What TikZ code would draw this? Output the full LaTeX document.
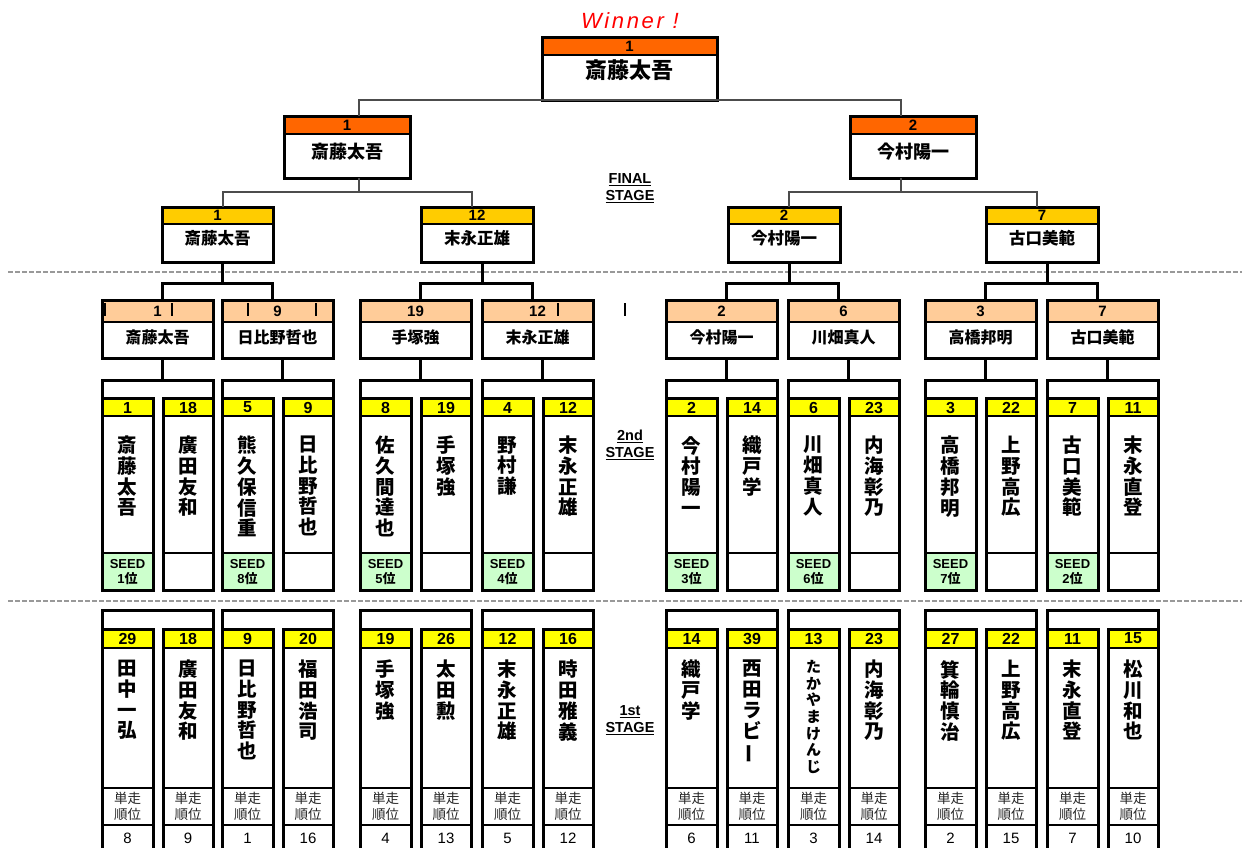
\documentclass[tikz,border=0pt]{standalone}
\usepackage{fontspec}
\usepackage{graphicx}
\setmainfont{Liberation Sans}
\newfontfamily\jp{Noto Sans CJK JP}
\usetikzlibrary{calc}
\definecolor{cOrange}{HTML}{FF6600}
\definecolor{cGold}{HTML}{FFCC00}
\definecolor{cPeach}{HTML}{FFCC99}
\definecolor{cYellow}{HTML}{FFFF00}
\definecolor{cGreen}{HTML}{CCFFCC}
\tikzset{
  boxframe/.style={draw=black, line width=3pt, inner sep=0pt, outer sep=0pt},
  sepline/.style={black, line width=2.5pt},
  groupline/.style={black, line width=3pt},
  connA/.style={draw=black!70, line width=2pt},
  connB/.style={draw=black, line width=3pt},
  hnum/.style={inner sep=0pt, font=\bfseries\fontsize{15}{15}\selectfont},
  colnum/.style={inner sep=0pt, font=\bfseries\fontsize{16}{16}\selectfont},
  vname/.style={inner sep=0pt, align=center, font=\jp\bfseries\fontsize{19.5}{20.7}\selectfont},
  seedtxt/.style={inner sep=0pt, align=center, font=\bfseries\fontsize{13}{14.5}\selectfont},
  ranklbl/.style={inner sep=0pt, align=center, text=black!85, font=\jp\fontsize{13.5}{15.5}\selectfont},
  ranknum/.style={inner sep=0pt, font=\fontsize{15}{15}\selectfont},
  stagelbl/.style={inner sep=0pt, align=center, font=\bfseries\fontsize{14.5}{16.5}\selectfont},
  dashsep/.style={draw=black!40, line width=1.5pt, dash pattern=on 5pt off 2pt},
  tickline/.style={draw=black, line width=1.3pt},
}
% title box: #1 name, #2 x1, #3 y1, #4 x2, #5 y2, #6 header bottom, #7 colour, #8 number, #9 name y
\newcommand{\tbox}[9]{%
  \fill[#7] (#2,#3) rectangle (#4,#6);
  \draw[sepline] (#2,#6) -- (#4,#6);
  \node[boxframe, minimum width={(#4-#2)*1pt}, minimum height={(#5-#3)*1pt}] (#1) at ({(#2+#4)/2},{(#3+#5)/2}) {};
  \node[hnum] (#1-n) at ({(#2+#4)/2},{(#3+#6)/2}) {#8};
  \node[inner sep=0pt, font=\jp\bfseries\fontsize{\tsize}{\tsize}\selectfont] (#1-t) at ({(#2+#4)/2},#9) {\tname};
}
% second stage column
\newcommand{\scol}[6]{%
  \fill[cYellow] (#2,398) rectangle (#3,416);
  \def\seedarg{#6}%
  \ifx\seedarg\empty\else\fill[cGreen] (#2,553) rectangle (#3,590);\fi
  \draw[sepline] (#2,416) -- (#3,416) (#2,553) -- (#3,553);
  \node[boxframe, minimum width={(#3-#2)*1pt}, minimum height=192pt] (#1) at ({(#2+#3)/2},494) {};
  \node[colnum] (#1-n) at ({(#2+#3)/2},407.5) {#4};
  \node[vname, anchor=north] (#1-t) at ({(#2+#3)/2},436) {#5};
  \ifx\seedarg\empty\else\node[seedtxt] (#1-s) at ({(#2+#3)/2},572) {SEED\\#6{\jp\bfseries 位}};\fi
}
% first stage column
\newcommand{\fcol}[7][\fontsize{19.5}{20.7}\selectfont]{%
  \fill[cYellow] (#3,629) rectangle (#4,648);
  \draw[sepline] (#3,648) -- (#4,648) (#3,788) -- (#4,788) (#3,825) -- (#4,825);
  \node[boxframe, minimum width={(#4-#3)*1pt}, minimum height=241pt] (#2) at ({(#3+#4)/2},749.5) {};
  \node[colnum] (#2-n) at ({(#3+#4)/2},638.5) {#5};
  \node[inner sep=0pt, align=center, anchor=north, font=\jp\bfseries#1] (#2-t) at ({(#3+#4)/2},660) {#6};
  \node[ranklbl] (#2-l) at ({(#3+#4)/2},806.5) {単走\\順位};
  \node[ranknum] (#2-r) at ({(#3+#4)/2},838) {#7};
}
% group top band
\newcommand{\grp}[5]{%
  \draw[groupline] (#2,#5) -- (#2,#4) -- (#3,#4) -- (#3,#5);
  \coordinate (#1) at ({(#2+#3)/2+5},#4);
}
\newcommand{\vbar}{\rotatebox[origin=c]{90}{ー}}
\begin{document}
\begin{tikzpicture}[x=1pt,y=-1pt]
\useasboundingbox (0,0) rectangle (1242,847);
\fill[white] (0,0) rectangle (1242,847);
\clip (0,0) rectangle (1242,847);

% separators
\draw[dashsep] (8,272) -- (1242,272);
\draw[dashsep] (8,601) -- (1242,601);

% winner
\node[inner sep=0pt, text=red, font=\itshape\fontsize{22}{22}\selectfont\addfontfeature{LetterSpace=12}] (win) at (630,21) {Winner !};

% final stage boxes
\def\tsize{22}\def\tname{斎藤太吾}\tbox{T}{542}{37}{717}{100}{55}{cOrange}{1}{70}
\def\tsize{18}\def\tname{斎藤太吾}\tbox{L2a}{284}{116}{410}{178}{134}{cOrange}{1}{152}
\def\tname{今村陽一}\tbox{L2b}{850}{116}{976}{178}{134}{cOrange}{2}{152}
\def\tsize{16.5}
\def\tname{斎藤太吾}\tbox{L3a}{162}{207}{273}{262}{224}{cGold}{1}{238}
\def\tname{末永正雄}\tbox{L3b}{421}{207}{533}{262}{224}{cGold}{12}{238}
\def\tname{今村陽一}\tbox{L3c}{728}{207}{840}{262}{224}{cGold}{2}{238}
\def\tname{古口美範}\tbox{L3d}{986}{207}{1098}{262}{224}{cGold}{7}{238}
\def\tsize{16}
\def\tname{斎藤太吾}\tbox{L4a}{102}{300}{213}{358}{322}{cPeach}{1}{337}
\def\tname{日比野哲也}\tbox{L4b}{222}{300}{333}{358}{322}{cPeach}{9}{337}
\def\tname{手塚強}\tbox{L4c}{360}{300}{471}{358}{322}{cPeach}{19}{337}
\def\tname{末永正雄}\tbox{L4d}{482}{300}{593}{358}{322}{cPeach}{12}{337}
\def\tname{今村陽一}\tbox{L4e}{666}{300}{777}{358}{322}{cPeach}{2}{337}
\def\tname{川畑真人}\tbox{L4f}{788}{300}{899}{358}{322}{cPeach}{6}{337}
\def\tname{高橋邦明}\tbox{L4g}{925}{300}{1036}{358}{322}{cPeach}{3}{337}
\def\tname{古口美範}\tbox{L4h}{1047}{300}{1158}{358}{322}{cPeach}{7}{337}

% stray ticks
\foreach \tx in {105,172,248,316,483,558,625}{\draw[tickline] (\tx,303) -- (\tx,316);}

% connectors
\draw[connA] ($(L2a.north)+(12,0)$) |- (T.south) -| ($(L2b.north)+(-12,0)$);
\coordinate (jA) at ($(L2a.south)+(12,14)$);
\draw[connA] ($(L2a.south)+(12,0)$) -- (jA);
\draw[connA] ($(L3a.north)+(5,0)$) |- (jA) -| ($(L3b.north)+(-5,0)$);
\coordinate (jB) at ($(L2b.south)+(-12,14)$);
\draw[connA] ($(L2b.south)+(-12,0)$) -- (jB);
\draw[connA] ($(L3c.north)+(5,0)$) |- (jB) -| ($(L3d.north)+(-5,0)$);
\foreach \p/\c/\d in {L3a/L4a/L4b, L3b/L4c/L4d, L3c/L4e/L4f, L3d/L4g/L4h}{
  \coordinate (j\p) at ($(\p.south)+(5,21)$);
  \draw[connB] ($(\p.south)+(5,0)$) -- (j\p);
  \draw[connB] ($(\c.north)+(5,0)$) |- (j\p) -| ($(\d.north)+(-5,0)$);
}

% stage labels
\node[stagelbl] (stF) at (630,188) {\underline{FINAL}\\\underline{STAGE}};
\node[stagelbl] (st2) at (630,445) {\underline{2nd}\\\underline{STAGE}};
\node[stagelbl] (st1) at (630,720) {\underline{1st}\\\underline{STAGE}};

% second stage groups
\grp{Ga}{102}{213}{380}{398}
\grp{Gb}{222}{333}{380}{398}
\grp{Gc}{360}{471}{380}{398}
\grp{Gd}{482}{593}{380}{398}
\grp{Ge}{666}{777}{380}{398}
\grp{Gf}{788}{899}{380}{398}
\grp{Gg}{925}{1036}{380}{398}
\grp{Gh}{1047}{1158}{380}{398}
\foreach \b/\g in {L4a/Ga, L4b/Gb, L4c/Gc, L4d/Gd, L4e/Ge, L4f/Gf, L4g/Gg, L4h/Gh}{
  \draw[connB] ($(\b.south)+(5,0)$) -- (\g);
}
\scol{S1}{102}{153}{1}{斎\\藤\\太\\吾}{1}
\scol{S2}{163}{213}{18}{廣\\田\\友\\和}{}
\scol{S3}{222}{273}{5}{熊\\久\\保\\信\\重}{8}
\scol{S4}{283}{333}{9}{日\\比\\野\\哲\\也}{}
\scol{S5}{360}{411}{8}{佐\\久\\間\\達\\也}{5}
\scol{S6}{421}{471}{19}{手\\塚\\強}{}
\scol{S7}{482}{533}{4}{野\\村\\謙}{4}
\scol{S8}{543}{593}{12}{末\\永\\正\\雄}{}
\scol{S9}{666}{717}{2}{今\\村\\陽\\一}{3}
\scol{S10}{727}{777}{14}{織\\戸\\学}{}
\scol{S11}{788}{839}{6}{川\\畑\\真\\人}{6}
\scol{S12}{849}{899}{23}{内\\海\\彰\\乃}{}
\scol{S13}{925}{976}{3}{高\\橋\\邦\\明}{7}
\scol{S14}{986}{1036}{22}{上\\野\\高\\広}{}
\scol{S15}{1047}{1098}{7}{古\\口\\美\\範}{2}
\scol{S16}{1108}{1158}{11}{末\\永\\直\\登}{}

% first stage groups
\grp{Ha}{102}{213}{610}{629}
\grp{Hb}{222}{333}{610}{629}
\grp{Hc}{360}{471}{610}{629}
\grp{Hd}{482}{593}{610}{629}
\grp{He}{666}{777}{610}{629}
\grp{Hf}{788}{899}{610}{629}
\grp{Hg}{925}{1036}{610}{629}
\grp{Hh}{1047}{1158}{610}{629}
\fcol{F1}{102}{153}{29}{田\\中\\一\\弘}{8}
\fcol{F2}{163}{213}{18}{廣\\田\\友\\和}{9}
\fcol{F3}{222}{273}{9}{日\\比\\野\\哲\\也}{1}
\fcol{F4}{283}{333}{20}{福\\田\\浩\\司}{16}
\fcol{F5}{360}{411}{19}{手\\塚\\強}{4}
\fcol{F6}{421}{471}{26}{太\\田\\勲}{13}
\fcol{F7}{482}{533}{12}{末\\永\\正\\雄}{5}
\fcol{F8}{543}{593}{16}{時\\田\\雅\\義}{12}
\fcol{F9}{666}{717}{14}{織\\戸\\学}{6}
\fcol{F10}{727}{777}{39}{西\\田\\ラ\\ビ\\\vbar}{11}
\fcol[\fontsize{15}{16.7}\selectfont]{F11}{788}{839}{13}{た\\か\\や\\ま\\け\\ん\\じ}{3}
\fcol{F12}{849}{899}{23}{内\\海\\彰\\乃}{14}
\fcol{F13}{925}{976}{27}{箕\\輪\\慎\\治}{2}
\fcol{F14}{986}{1036}{22}{上\\野\\高\\広}{15}
\fcol{F15}{1047}{1098}{11}{末\\永\\直\\登}{7}
\fcol{F16}{1108}{1158}{15}{松\\川\\和\\也}{10}
\end{tikzpicture}
\end{document}
